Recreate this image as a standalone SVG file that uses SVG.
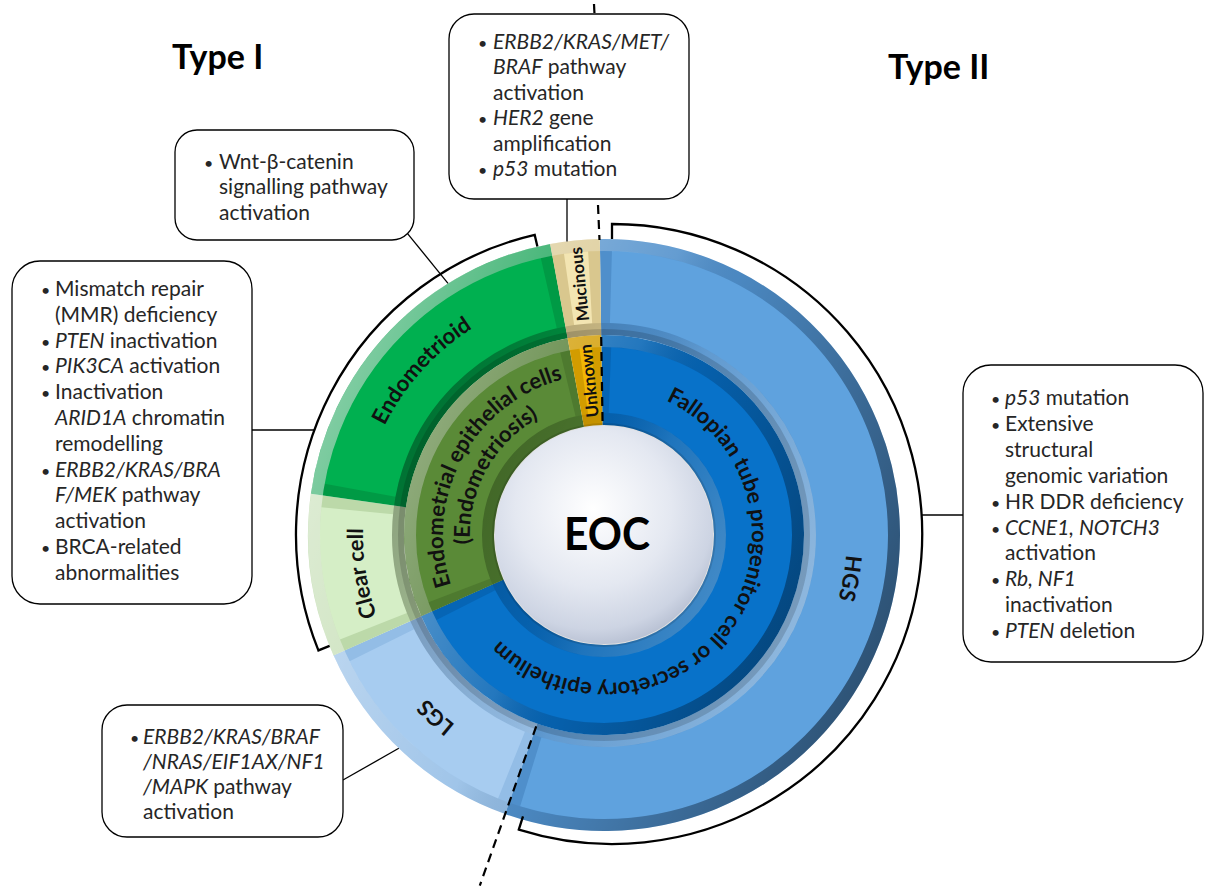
<svg xmlns="http://www.w3.org/2000/svg" width="1205" height="886" viewBox="0 0 1205 886">
  <defs>
    <style>
      .box { fill: #ffffff; stroke: #000000; stroke-width: 1.3; }
      .txt { font-family: Lato, "Liberation Sans", sans-serif; font-size: 21px; fill: #262626; }
      .it { font-style: italic; }
      .bul { font-size: 16px; }
      .ring { font-family: Lato, "Liberation Sans", sans-serif; font-weight: bold; font-size: 22px; fill: #111111; text-anchor: middle; }
      .small { font-size: 17px; }
      .title { font-family: Lato, "Liberation Sans", sans-serif; font-weight: bold; font-size: 34px; fill: #000000; }
      .conn { stroke: #000000; stroke-width: 1.3; fill: none; }
      .brk { stroke: #000000; stroke-width: 2.3; fill: none; }
      .dash { stroke: #000000; stroke-width: 2.2; stroke-dasharray: 9 6; fill: none; }
      .seg { fill: none; }
    </style>
    <!-- bevel lighting: light from the upper left -->
    <linearGradient id="rimOut" gradientUnits="userSpaceOnUse" x1="300" y1="400" x2="900" y2="650">
      <stop offset="0" stop-color="#ffffff" stop-opacity="0.55"/>
      <stop offset="0.45" stop-color="#ffffff" stop-opacity="0.12"/>
      <stop offset="0.55" stop-color="#000000" stop-opacity="0.05"/>
      <stop offset="1" stop-color="#000000" stop-opacity="0.45"/>
    </linearGradient>
    <linearGradient id="rimIn" gradientUnits="userSpaceOnUse" x1="300" y1="400" x2="900" y2="650">
      <stop offset="0" stop-color="#000000" stop-opacity="0.4"/>
      <stop offset="0.45" stop-color="#000000" stop-opacity="0.05"/>
      <stop offset="0.55" stop-color="#ffffff" stop-opacity="0.1"/>
      <stop offset="1" stop-color="#ffffff" stop-opacity="0.5"/>
    </linearGradient>
    <radialGradient id="disk" cx="0.45" cy="0.38" r="0.65">
      <stop offset="0" stop-color="#ffffff"/>
      <stop offset="0.55" stop-color="#e4e8f1"/>
      <stop offset="0.85" stop-color="#cdd4e3"/>
      <stop offset="1" stop-color="#b4bdd0"/>
    </radialGradient>
    <!-- baselines for the curved labels (centre 604,535) -->
    <path id="tp-endometrioid" d="M 361.4 569.1 A 245 245 0 0 1 612.55 290.15"/>
    <path id="tp-clear" d="M 479.9 741.6 A 241 241 0 0 1 422.1 376.9"/>
    <path id="tp-lgs" d="M 634.4 774.1 A 241 241 0 0 1 363.3 523.4"/>
    <path id="tp-hgs" d="M 790.1 378.8 A 243 243 0 0 1 725.5 745.4"/>
    <path id="tp-endo-cells" d="M 503.8 661.0 A 161 161 0 0 1 655.1 382.3"/>
    <path id="tp-endo-sis" d="M 520.6 639.9 A 134 134 0 0 1 646.5 407.9"/>
    <path id="tp-fallopian" d="M 541.0 401.1 A 148 148 0 1 1 456.5 522.6"/>
  </defs>

  <rect width="1205" height="886" fill="#ffffff"/>

  <!-- titles -->
  <text class="title" x="172" y="69">Type I</text>
  <text class="title" x="888" y="79">Type II</text>

  <!-- outer ring: histotypes -->
  <g id="hgs">
    <circle class="seg" cx="604" cy="535" r="248" stroke="#4f8fcb" stroke-width="96" stroke-dasharray="866.98 3000" transform="rotate(269.2 604 535)"/>
    <circle class="seg" cx="604" cy="535" r="248" stroke="#5fa2de" stroke-width="72" stroke-dasharray="846.21 3000" transform="rotate(271.6 604 535)"/>
  </g>
  <g id="lgs">
    <circle class="seg" cx="604" cy="535" r="248" stroke="#93bde6" stroke-width="96" stroke-dasharray="201.27 3000" transform="rotate(109.5 604 535)"/>
    <circle class="seg" cx="604" cy="535" r="248" stroke="#a7ccf0" stroke-width="72" stroke-dasharray="180.50 3000" transform="rotate(111.9 604 535)"/>
  </g>
  <g id="clear-cell">
    <circle class="seg" cx="604" cy="535" r="248" stroke="#bcd9a9" stroke-width="96" stroke-dasharray="138.51 3000" transform="rotate(156 604 535)"/>
    <circle class="seg" cx="604" cy="535" r="248" stroke="#d5eec6" stroke-width="72" stroke-dasharray="117.73 3000" transform="rotate(158.4 604 535)"/>
  </g>
  <g id="endometrioid">
    <circle class="seg" cx="604" cy="535" r="248" stroke="#009a45" stroke-width="96" stroke-dasharray="309.48 3000" transform="rotate(188 604 535)"/>
    <circle class="seg" cx="604" cy="535" r="248" stroke="#00b050" stroke-width="72" stroke-dasharray="288.71 3000" transform="rotate(190.4 604 535)"/>
  </g>
  <g id="mucinous">
    <circle class="seg" cx="604" cy="535" r="248" stroke="#d9c78e" stroke-width="96" stroke-dasharray="41.99 3000" transform="rotate(259.5 604 535)"/>
    <circle class="seg" cx="604" cy="535" r="248" stroke="#f3e5b2" stroke-width="72" stroke-dasharray="21.21 3000" transform="rotate(261.9 604 535)"/>
  </g>
  <g id="outer-ring-shading">
    <circle class="seg" cx="604" cy="535" r="290" stroke="url(#rimOut)" stroke-width="12"/>
    <circle class="seg" cx="604" cy="535" r="206" stroke="url(#rimIn)" stroke-width="12"/>
    <circle class="seg" cx="604" cy="535" r="203" stroke="#000000" stroke-opacity="0.15" stroke-width="6"/>
  </g>

  <!-- inner ring: cells of origin -->
  <g id="fallopian">
    <circle class="seg" cx="604" cy="535" r="155" stroke="#0665b5" stroke-width="90" stroke-dasharray="667.66 3000" transform="rotate(269.2 604 535)"/>
    <circle class="seg" cx="604" cy="535" r="155" stroke="#0872c9" stroke-width="66" stroke-dasharray="651.43 3000" transform="rotate(272.2 604 535)"/>
  </g>
  <g id="endometrial">
    <circle class="seg" cx="604" cy="535" r="155" stroke="#4e7a2f" stroke-width="90" stroke-dasharray="279.99 3000" transform="rotate(156 604 535)"/>
    <circle class="seg" cx="604" cy="535" r="155" stroke="#5a8a37" stroke-width="66" stroke-dasharray="263.76 3000" transform="rotate(159 604 535)"/>
  </g>
  <g id="unknown">
    <circle class="seg" cx="604" cy="535" r="155" stroke="#d29c00" stroke-width="90" stroke-dasharray="26.24 3000" transform="rotate(259.5 604 535)"/>
    <circle class="seg" cx="604" cy="535" r="155" stroke="#f2b705" stroke-width="66" stroke-dasharray="10.01 3000" transform="rotate(262.5 604 535)"/>
  </g>
  <g id="inner-ring-shading">
    <circle class="seg" cx="604" cy="535" r="194" stroke="url(#rimOut)" stroke-width="12"/>
    <circle class="seg" cx="604" cy="535" r="116" stroke="url(#rimIn)" stroke-width="12"/>
  </g>

  <!-- centre disk -->
  <g id="eoc">
    <circle cx="604" cy="535" r="112" fill="#000000" fill-opacity="0.12"/>
    <circle cx="604" cy="535" r="109" fill="url(#disk)"/>
    <text x="607" y="550" font-family="Lato, 'Liberation Sans', sans-serif" font-weight="bold" font-size="46" text-anchor="middle" textLength="86" lengthAdjust="spacingAndGlyphs" fill="#000000">EOC</text>
  </g>

  <!-- ring labels -->
  <g id="ring-labels">
    <text class="ring"><textPath href="#tp-endometrioid" startOffset="50%">Endometrioid</textPath></text>
    <text class="ring"><textPath href="#tp-clear" startOffset="50%">Clear cell</textPath></text>
    <text class="ring"><textPath href="#tp-lgs" startOffset="50%">LGS</textPath></text>
    <text class="ring"><textPath href="#tp-hgs" startOffset="50%">HGS</textPath></text>
    <text class="ring"><textPath href="#tp-endo-cells" startOffset="50%">Endometrial epithelial cells</textPath></text>
    <text class="ring"><textPath href="#tp-endo-sis" startOffset="50%">(Endometriosis)</textPath></text>
    <text class="ring"><textPath href="#tp-fallopian" startOffset="50%">Fallopian tube progenitor cell or secretory epithelium</textPath></text>
    <text class="ring small" dominant-baseline="central" transform="translate(579 284.2) rotate(-95.7)">Mucinous</text>
    <text class="ring small" dominant-baseline="central" transform="translate(588.6 380.8) rotate(-95.7)">Unknown</text>
  </g>

  <!-- connectors, brackets and Type I / Type II divider -->
  <g id="connectors">
    <path class="brk" d="M 329.6 645.9 L 318.4 650.4 A 308 308 0 0 1 534.7 234.9 L 537.4 246.6"/>
    <path class="brk" d="M 612 239 L 612 224 A 310 310 0 1 1 518.8 829.6 L 523 816.3"/>
    <line class="dash" x1="594" y1="4" x2="594.5" y2="14"/>
    <line class="dash" x1="598" y1="205" x2="599.5" y2="240"/>
    <line class="dash" x1="601.2" y1="337" x2="602.6" y2="425"/>
    <line class="dash" x1="536.2" y1="726.3" x2="479.8" y2="885.6"/>
    <line class="conn" x1="567" y1="199" x2="567" y2="241.5"/>
    <line class="conn" x1="407.6" y1="233.6" x2="448" y2="283.4"/>
    <line class="conn" x1="252" y1="430" x2="314.5" y2="430"/>
    <line class="conn" x1="343" y1="780" x2="398.8" y2="748.3"/>
    <line class="conn" x1="921.4" y1="515" x2="963" y2="515"/>
  </g>

  <!-- annotation boxes -->
  <g id="box-mucinous">
    <rect class="box" x="449" y="14" width="240" height="185" rx="25"/>
    <text class="txt">
      <tspan x="478" y="49" class="bul">•</tspan><tspan x="493" y="49" class="it">ERBB2/KRAS/MET/</tspan>
      <tspan x="493" y="74.4" class="it">BRAF</tspan><tspan> pathway</tspan>
      <tspan x="493" y="99.8">activation</tspan>
      <tspan x="478" y="125.2" class="bul">•</tspan><tspan x="493" y="125.2" class="it">HER2</tspan><tspan> gene</tspan>
      <tspan x="493" y="150.6">amplification</tspan>
      <tspan x="478" y="176" class="bul">•</tspan><tspan x="493" y="176" class="it">p53</tspan><tspan> mutation</tspan>
    </text>
  </g>
  <g id="box-endometrioid-wnt">
    <rect class="box" x="175" y="130" width="239" height="110" rx="22"/>
    <text class="txt">
      <tspan x="204" y="168.5" class="bul">•</tspan><tspan x="219" y="168.5">Wnt-β-catenin</tspan>
      <tspan x="219" y="194">signalling pathway</tspan>
      <tspan x="219" y="219.5">activation</tspan>
    </text>
  </g>
  <g id="box-endometrioid-clear">
    <rect class="box" x="12" y="261" width="240" height="343" rx="28"/>
    <text class="txt">
      <tspan x="41" y="296" class="bul">•</tspan><tspan x="55" y="296">Mismatch repair</tspan>
      <tspan x="55" y="321.8">(MMR) deficiency</tspan>
      <tspan x="41" y="347.6" class="bul">•</tspan><tspan x="55" y="347.6" class="it">PTEN</tspan><tspan> inactivation</tspan>
      <tspan x="41" y="373.4" class="bul">•</tspan><tspan x="55" y="373.4" class="it">PIK3CA</tspan><tspan> activation</tspan>
      <tspan x="41" y="399.2" class="bul">•</tspan><tspan x="55" y="399.2">Inactivation</tspan>
      <tspan x="55" y="425" class="it">ARID1A</tspan><tspan> chromatin</tspan>
      <tspan x="55" y="450.8">remodelling</tspan>
      <tspan x="41" y="476.6" class="bul">•</tspan><tspan x="55" y="476.6" class="it">ERBB2/KRAS/BRA</tspan>
      <tspan x="55" y="502.4" class="it">F/MEK</tspan><tspan> pathway</tspan>
      <tspan x="55" y="528.2">activation</tspan>
      <tspan x="41" y="554" class="bul">•</tspan><tspan x="55" y="554">BRCA-related</tspan>
      <tspan x="55" y="579.8">abnormalities</tspan>
    </text>
  </g>
  <g id="box-lgs">
    <rect class="box" x="102" y="705" width="241" height="132" rx="25"/>
    <text class="txt">
      <tspan x="130" y="744" class="bul">•</tspan><tspan x="143" y="744" class="it">ERBB2/KRAS/BRAF</tspan>
      <tspan x="143" y="769" class="it">/NRAS/EIF1AX/NF1</tspan>
      <tspan x="143" y="794" class="it">/MAPK</tspan><tspan> pathway</tspan>
      <tspan x="143" y="819">activation</tspan>
    </text>
  </g>
  <g id="box-hgs">
    <rect class="box" x="963" y="365" width="240" height="297" rx="28"/>
    <text class="txt">
      <tspan x="991" y="405" class="bul">•</tspan><tspan x="1005" y="405" class="it">p53</tspan><tspan> mutation</tspan>
      <tspan x="991" y="430.9" class="bul">•</tspan><tspan x="1005" y="430.9">Extensive</tspan>
      <tspan x="1005" y="456.8">structural</tspan>
      <tspan x="1005" y="482.7">genomic variation</tspan>
      <tspan x="991" y="508.6" class="bul">•</tspan><tspan x="1005" y="508.6">HR DDR deficiency</tspan>
      <tspan x="991" y="534.5" class="bul">•</tspan><tspan x="1005" y="534.5" class="it">CCNE1, NOTCH3</tspan>
      <tspan x="1005" y="560.4">activation</tspan>
      <tspan x="991" y="586.3" class="bul">•</tspan><tspan x="1005" y="586.3" class="it">Rb, NF1</tspan>
      <tspan x="1005" y="612.2">inactivation</tspan>
      <tspan x="991" y="638.1" class="bul">•</tspan><tspan x="1005" y="638.1" class="it">PTEN</tspan><tspan> deletion</tspan>
    </text>
  </g>
</svg>
